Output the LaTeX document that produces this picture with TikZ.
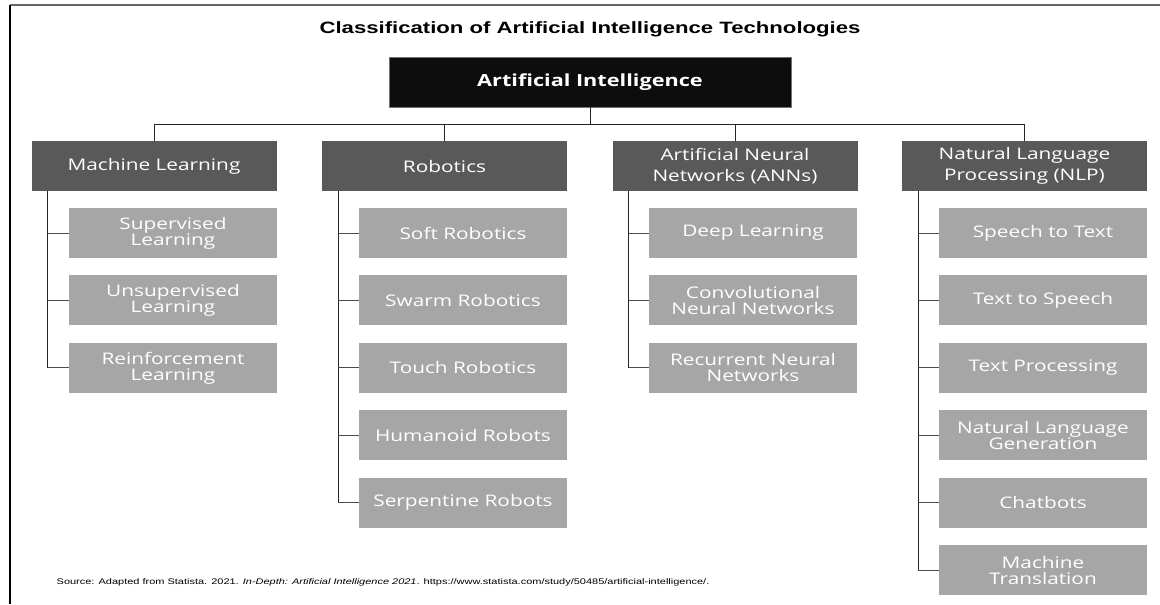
\documentclass[tikz,border=0pt]{standalone}
\usepackage{fontspec}
\newfontfamily\titlefont[FakeStretch=1.35]{Liberation Sans}
\newfontfamily\boxfont[FakeStretch=1.3]{Open Sans}
\usetikzlibrary{calc,positioning}
\definecolor{rootblack}{HTML}{0D0D0D}
\definecolor{catgray}{HTML}{595959}
\definecolor{subgray}{HTML}{A6A6A6}
\tikzset{
	rootbox/.style={fill=rootblack, draw=black!55, text=white, minimum width=301.5pt, minimum height=37.5pt, inner sep=0pt, font=\boxfont\bfseries\fontsize{12.5}{15}\selectfont},
	catbox/.style={fill=catgray, text=white, minimum width=183.75pt, minimum height=37.5pt, inner sep=0pt, align=center, font=\boxfont\fontsize{12}{15.5}\selectfont},
	subbox/.style={fill=subgray, text=white, minimum width=156pt, minimum height=37.5pt, inner sep=0pt, align=center, font=\boxfont\fontsize{12}{12}\selectfont},
	link/.style={draw=black!85, line width=0.75pt}
}

\begin{document}
\begin{tikzpicture}[x=0.75pt, y=-0.75pt]
	\useasboundingbox (0,0) rectangle (1160,604);

% marco
	\draw[black!60, line width=1.5pt] (10,5) -- (1160,5);
	\draw[black, line width=0.8pt] (10,5) -- (10,604);

% titulo y raiz
	\node[font=\titlefont\bfseries\fontsize{12.3}{14}\selectfont] (title) at (590,29) {Classification of Artificial Intelligence Technologies};
	\node[rootbox] (ai) at (590,82) {Artificial Intelligence};

% categorias
	\node[catbox] (ml) at (154,166) {Machine Learning};
	\node[catbox] (rob) at (444.5,166) {Robotics};
	\node[catbox] (ann) at (735,166) {Artificial Neural\\Networks (ANNs)};
	\node[catbox] (nlp) at (1024.5,166) {Natural Language\\Processing (NLP)};

	\coordinate (bus) at (590,124);
	\draw[link] (ai.south) -- (bus);
	\draw[link] (ml.north) -- (ml.north |- bus) -- (nlp.north |- bus) -- (nlp.north);
	\draw[link] (rob.north) -- (rob.north |- bus);
	\draw[link] (ann.north) -- (ann.north |- bus);

% subcategorias
	\foreach \txt [count=\i from=0] in {{Supervised\\Learning},{Unsupervised\\Learning},{Reinforcement\\Learning}}
		\node[subbox] (ml\i) at (173,233+67.4*\i) {\txt};
	\foreach \txt [count=\i from=0] in {Soft Robotics,Swarm Robotics,Touch Robotics,Humanoid Robots,Serpentine Robots}
		\node[subbox] (rob\i) at (463,233+67.4*\i) {\txt};
	\foreach \txt [count=\i from=0] in {Deep Learning,{Convolutional\\Neural Networks},{Recurrent Neural\\Networks}}
		\node[subbox] (ann\i) at (753,233+67.4*\i) {\txt};
	\foreach \txt [count=\i from=0] in {Speech to Text,Text to Speech,Text Processing,{Natural Language\\Generation},Chatbots,{Machine\\Translation}}
		\node[subbox] (nlp\i) at (1043,233+67.4*\i) {\txt};

% lineas laterales
	\foreach \c/\n in {ml/2, rob/4, ann/2, nlp/5} {
		\coordinate (\c bar) at ($(\c.south west)+(16.5,0)$);
		\draw[link] (\c bar) -- (\c bar |- \c\n.west);
		\foreach \i in {0,...,\n}
			\draw[link, draw=black!70] (\c\i.west) -- (\c\i.west -| \c bar);
	}

% fuente
	\node[anchor=west, font=\titlefont\fontsize{6.1}{7.5}\selectfont] (src) at (52,582) {Source: Adapted from Statista. 2021. \textit{In-Depth: Artificial Intelligence 2021}. https://www.statista.com/study/50485/artificial-intelligence/.};
\end{tikzpicture}
\end{document}
